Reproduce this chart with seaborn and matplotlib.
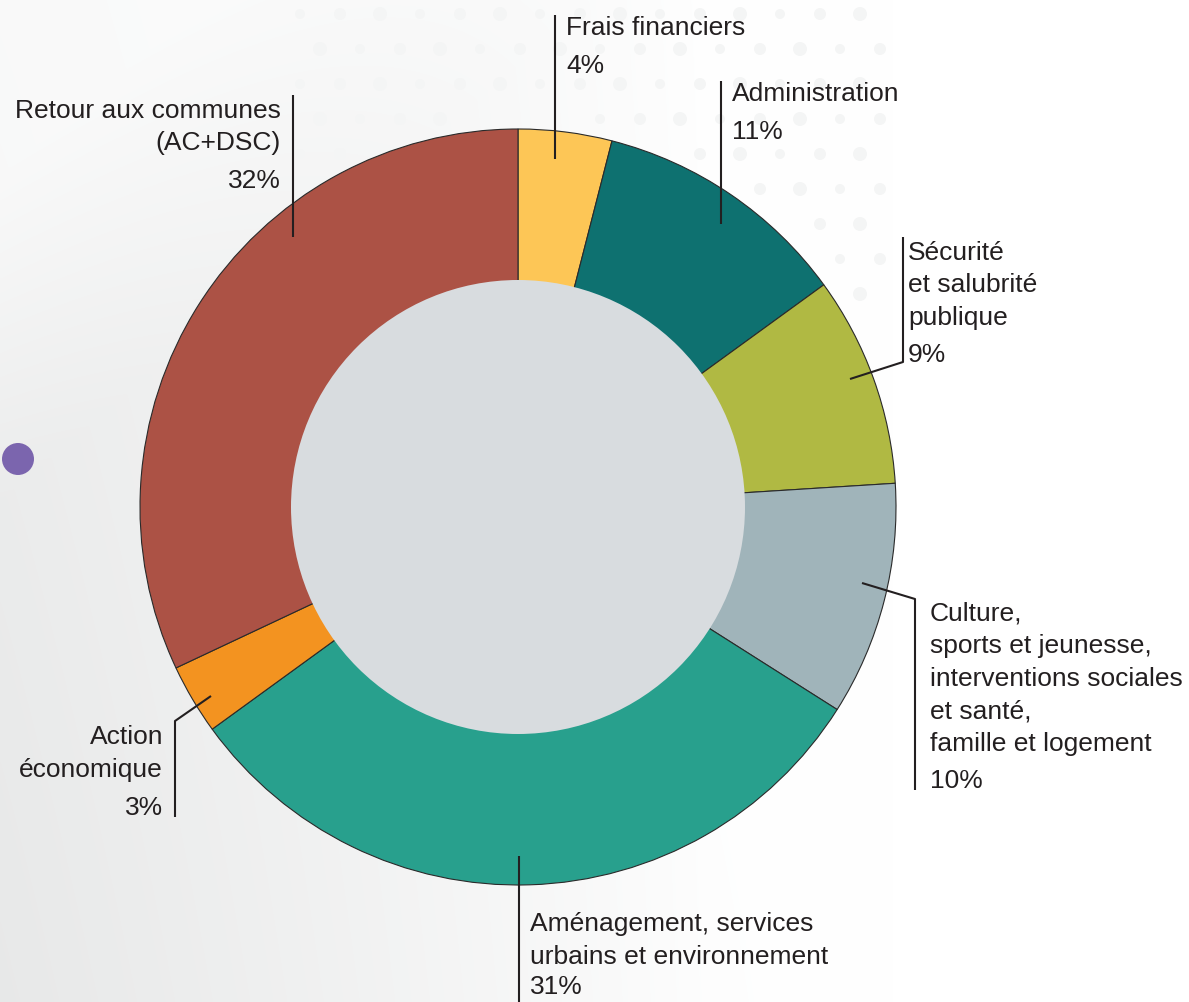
import numpy as np
import seaborn as sns
import matplotlib.pyplot as plt
from matplotlib.patches import Circle

sns.set_theme(style="white")
plt.rcParams['font.family'] = ['Liberation Sans', 'DejaVu Sans']

# données
labels = [
    ["Frais financiers"],
    ["Administration"],
    ["Sécurité", "et salubrité", "publique"],
    ["Culture,", "sports et jeunesse,", "interventions sociales", "et santé,", "famille et logement"],
    ["Aménagement, services", "urbains et environnement"],
    ["Action", "économique"],
    ["Retour aux communes", "(AC+DSC)"],
]
values = [4, 11, 9, 10, 31, 3, 32]
colors = ["#FDC656", "#0E7170", "#B0B943", "#A0B4BA", "#28A08D", "#F39320", "#AC5245"]

W, H = 1189, 1003
TXT = "#231F20"
cx, cy = 518, H - 508

fig = plt.figure(figsize=(W / 100, H / 100), dpi=100)
ax = fig.add_axes([0, 0, 1, 1])

# fond : léger dégradé gris à gauche
xx, yy = np.meshgrid(np.linspace(0, 1, 600), np.linspace(0, 1, 500))
shade = 0.065 * np.clip(1 - xx / 0.6, 0, 1) ** 0.8 + 0.025 * (1 - yy) * np.clip(1 - xx / 0.75, 0, 1)
shade *= np.clip((xx + (1 - yy)) / 0.5, 0.35, 1)
bg = np.dstack([1 - shade * 1.02, 1 - shade * 0.98, 1 - shade * 0.98])
ax.imshow(bg, extent=(0, W, 0, H), origin="lower", zorder=0, aspect="auto", interpolation="bilinear")

# petits points décoratifs en haut
for i, py in enumerate(range(15, 300, 35)):
    for px in range(300 + (i % 2) * 20, 900, 40):
        if np.hypot(px - cx, (H - py) - cy) > 395:
            ax.add_patch(Circle((px, H - py), 5 + (px % 3), fc="#f4f5f5", ec="none", zorder=0.5))

ax.add_patch(Circle((18, H - 460), 16, fc="#7B65AE", ec="none", zorder=2))

pal = sns.color_palette(colors)
ax.pie(values, colors=pal, startangle=90, counterclock=False, radius=378, center=(cx, cy),
       wedgeprops=dict(edgecolor="#2a2a2a", linewidth=0.8))
ax.add_patch(Circle((cx, cy), 227, fc="#D8DCDF", ec="none", zorder=5))

# lignes de rappel (coordonnées en pixels, y vers le bas)
leaders = [
    [(555, 16), (555, 160)],
    [(721, 82), (721, 225)],
    [(903, 238), (903, 363), (850, 380)],
    [(862, 584), (915, 600), (915, 791)],
    [(519, 857), (519, 1003)],
    [(211, 697), (175, 722), (175, 818)],
    [(293, 96), (293, 238)],
]
text_x = [566, 732, 908, 930, 530, 163, 281]
first_y = [25, 91, 250, 611, 922, 735, 108]
align = ["left", "left", "left", "left", "left", "right", "right"]

for pts, lab, v, tx, fy, ha in zip(leaders, labels, values, text_x, first_y, align):
    xs = [p[0] for p in pts]
    ys = [H - p[1] for p in pts]
    ax.plot(xs, ys, color=TXT, lw=1.5, zorder=6, solid_capstyle="butt")
    for k, line in enumerate(lab):
        ax.text(tx, H - (fy + 32.5 * k + 9.5), line, ha=ha, va="baseline",
                fontsize=19, color=TXT, zorder=7)
    py = min(fy + 32.5 * (len(lab) - 1) + 38, H - 18)
    ax.text(tx, H - (py + 9.5), f"{v}%", ha=ha, va="baseline", fontsize=19, color=TXT, zorder=7)

ax.set_xlim(0, W)
ax.set_ylim(0, H)
ax.set_aspect("equal")
ax.axis("off")
fig.savefig("out.png", dpi=100)
